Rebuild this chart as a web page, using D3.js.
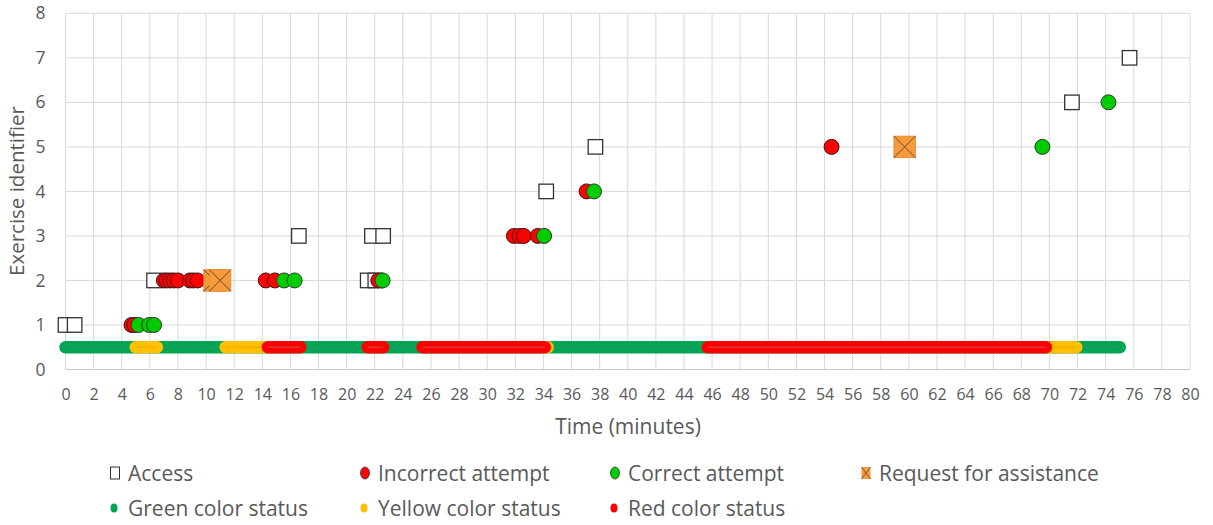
<!DOCTYPE html>
<html><head><meta charset="utf-8">
<script src="https://cdn.jsdelivr.net/npm/d3@7/dist/d3.min.js"></script>
<style>body{margin:0;background:#fff}svg{display:block}text{font-family:"Open Sans",Lato,sans-serif;fill:#595959}</style>
</head><body><svg id="c" width="1213" height="525"></svg>
<script>
// ---- data ----
const xTicks = d3.range(0, 81, 2);
const yTicks = [0,1,2,3,4,5,6,7,8];
const accessTime = [0, 0.65, 6.3, 21.5, 22.04, 16.6, 21.8, 22.6, 34.2, 37.7, 71.6, 75.7];
const accessId   = [1, 1,    2,   2,    2,     3,    3,    3,    4,    5,    6,    7];
const incorrectTime = [4.7, 4.9, 7.0, 7.2, 7.45, 7.7, 8.0, 8.85, 9.1, 9.4, 14.25, 14.9, 22.25, 31.9, 32.3, 32.6, 33.6, 37.07, 54.5];
const incorrectId   = [1,   1,   2,   2,   2,    2,   2,   2,    2,   2,   2,     2,    2,     3,    3,    3,    3,    4,     5];
const correctTime = [5.2, 5.95, 6.3, 15.55, 16.3, 22.56, 34.05, 37.6, 69.5, 74.2];
const correctId   = [1,   1,    1,   2,     2,    2,     3,     4,    5,    6];
const assistTime = [10.6, 11.0, 59.7];
const assistId   = [2,    2,    5];
const statusLevel = 0.5;
const greenStatus  = [[0, 75.0]];
const yellowStatus = [[5.0, 6.5], [11.4, 14.2], [34.1, 34.3], [69.8, 71.9]];
const redStatus    = [[14.4, 16.7], [21.5, 22.6], [25.4, 34.1], [45.7, 69.75]];

const C = {green:"#00a651", greenLine:"#1f9a6e", yellow:"#ffc000", yellowLine:"#f0b000", red:"#ff0000", redLine:"#d83a3a",
  incorrect:"#ff0000", correct:"#00cc00", assist:"#f79a3c", grid:"#d9d9d9"};

const svg = d3.select("#c");
const x = d3.scaleLinear().domain([0, 80]).range([65.5, 1190]);
const y = d3.scaleLinear().domain([0, 8]).range([369.5, 13.3]);

// grid
const g = svg.append("g");
g.selectAll(".vg").data(xTicks).join("line").attr("x1", d=>x(d)).attr("x2", d=>x(d))
  .attr("y1", y(8)).attr("y2", y(0)).attr("stroke", C.grid).attr("stroke-width", 1);
g.selectAll(".hg").data(yTicks).join("line").attr("x1", x(0)).attr("x2", x(80))
  .attr("y1", d=>y(d)).attr("y2", d=>y(d)).attr("stroke", d=> d===0 ? "#c8c8c8" : C.grid).attr("stroke-width", 1);

// axes (labels only, using d3 axes)
const xAxis = svg.append("g").attr("transform", `translate(0,${y(0)})`)
  .call(d3.axisBottom(x).tickValues(xTicks).tickSize(0).tickPadding(19).tickFormat(d3.format("d")));
xAxis.select(".domain").remove();
xAxis.selectAll("text").style("font-size","16px").style("font-family","'Open Sans'").attr("fill","#595959");
const yAxis = svg.append("g").attr("transform", `translate(${x(0)},0)`)
  .call(d3.axisLeft(y).tickValues(yTicks).tickSize(0).tickPadding(20).tickFormat(d3.format("d")));
yAxis.select(".domain").remove();
yAxis.selectAll("text").style("font-size","17.5px").style("font-family","'Open Sans'").attr("fill","#595959");

svg.append("text").attr("x", 628).attr("y", 434).attr("text-anchor","middle").style("font-size","21px").text("Time (minutes)");
svg.append("text").attr("transform","translate(24,191) rotate(-90)").attr("text-anchor","middle").style("font-size","20.5px").text("Exercise identifier");

// status bars
function drawStatus(segs, fill, inner){
  const sg = svg.append("g");
  sg.selectAll("line.o").data(segs).join("line")
    .attr("x1", d=>x(d[0])).attr("x2", d=>x(d[1])).attr("y1", y(statusLevel)).attr("y2", y(statusLevel))
    .attr("stroke", fill).attr("stroke-width", 12.5).attr("stroke-linecap","round");
  sg.selectAll("line.i").data(segs).join("line")
    .attr("x1", d=>x(d[0])).attr("x2", d=>x(d[1])).attr("y1", y(statusLevel)).attr("y2", y(statusLevel))
    .attr("stroke", inner).attr("stroke-width", 1.5);
}
drawStatus(greenStatus, C.green, C.greenLine);
drawStatus(yellowStatus, C.yellow, C.yellowLine);
drawStatus(redStatus, C.red, C.redLine);

// markers
const sq = 14.5;
svg.append("g").selectAll("rect").data(d3.range(accessTime.length)).join("rect")
  .attr("x", i=>x(accessTime[i]) - sq/2).attr("y", i=>y(accessId[i]) - sq/2)
  .attr("width", sq).attr("height", sq).attr("fill","#fff").attr("stroke","#333").attr("stroke-width",1.3);
svg.append("g").selectAll("circle").data(d3.range(incorrectTime.length)).join("circle")
  .attr("cx", i=>x(incorrectTime[i])).attr("cy", i=>y(incorrectId[i])).attr("r", 7.5)
  .attr("fill", C.incorrect).attr("stroke","#3a1a1a").attr("stroke-width",1);
svg.append("g").selectAll("circle").data(d3.range(correctTime.length)).join("circle")
  .attr("cx", i=>x(correctTime[i])).attr("cy", i=>y(correctId[i])).attr("r", 7.5)
  .attr("fill", C.correct).attr("stroke","#2a3a2a").attr("stroke-width",1);
const as = 21.5;
const ag = svg.append("g");
d3.range(assistTime.length).forEach(i=>{
  const cx = x(assistTime[i]), cy = y(assistId[i]);
  ag.append("rect").attr("x", cx-as/2).attr("y", cy-as/2).attr("width", as).attr("height", as)
    .attr("fill", C.assist).attr("stroke","#e08a30").attr("stroke-width",0.8);
  ag.append("path").attr("d", `M${cx-as/2},${cy-as/2}L${cx+as/2},${cy+as/2}M${cx+as/2},${cy-as/2}L${cx-as/2},${cy+as/2}`)
    .attr("stroke","#6b4a2a").attr("stroke-width",1);
});

// legend
const leg = svg.append("g");
const row1 = 473, row2 = 508;
const items1 = [
  {x:115, label:"Access", type:"sq"},
  {x:365, label:"Incorrect attempt", type:"ci", fill:C.incorrect},
  {x:615, label:"Correct attempt", type:"ci", fill:C.correct},
  {x:866, label:"Request for assistance", type:"as"}];
items1.forEach(d=>{
  if(d.type==="sq") leg.append("rect").attr("x", d.x-4.5).attr("y", row1-6).attr("width",9).attr("height",12).attr("fill","#fff").attr("stroke","#333").attr("stroke-width",1);
  if(d.type==="ci") leg.append("ellipse").attr("cx", d.x).attr("cy", row1).attr("rx",4.5).attr("ry",6).attr("fill",d.fill).attr("stroke","#333").attr("stroke-width",0.8);
  if(d.type==="as"){
    leg.append("rect").attr("x", d.x-4.5).attr("y", row1-6).attr("width",9).attr("height",12).attr("fill",C.assist);
    leg.append("path").attr("d",`M${d.x-4.5},${row1-6}L${d.x+4.5},${row1+6}M${d.x+4.5},${row1-6}L${d.x-4.5},${row1+6}`).attr("stroke","#6b4a2a").attr("stroke-width",0.8);
  }
  leg.append("text").attr("x", d.x+13).attr("y", row1+7.5).style("font-size","21px").text(d.label);
});
const items2 = [
  {x:114, label:"Green color status", fill:C.green},
  {x:364, label:"Yellow color status", fill:C.yellow},
  {x:614, label:"Red color status", fill:C.red}];
items2.forEach(d=>{
  leg.append("ellipse").attr("cx", d.x).attr("cy", row2).attr("rx",3.5).attr("ry",4.5).attr("fill",d.fill);
  leg.append("text").attr("x", d.x+14).attr("y", row2+7.5).style("font-size","21px").text(d.label);
});
</script></body></html>
